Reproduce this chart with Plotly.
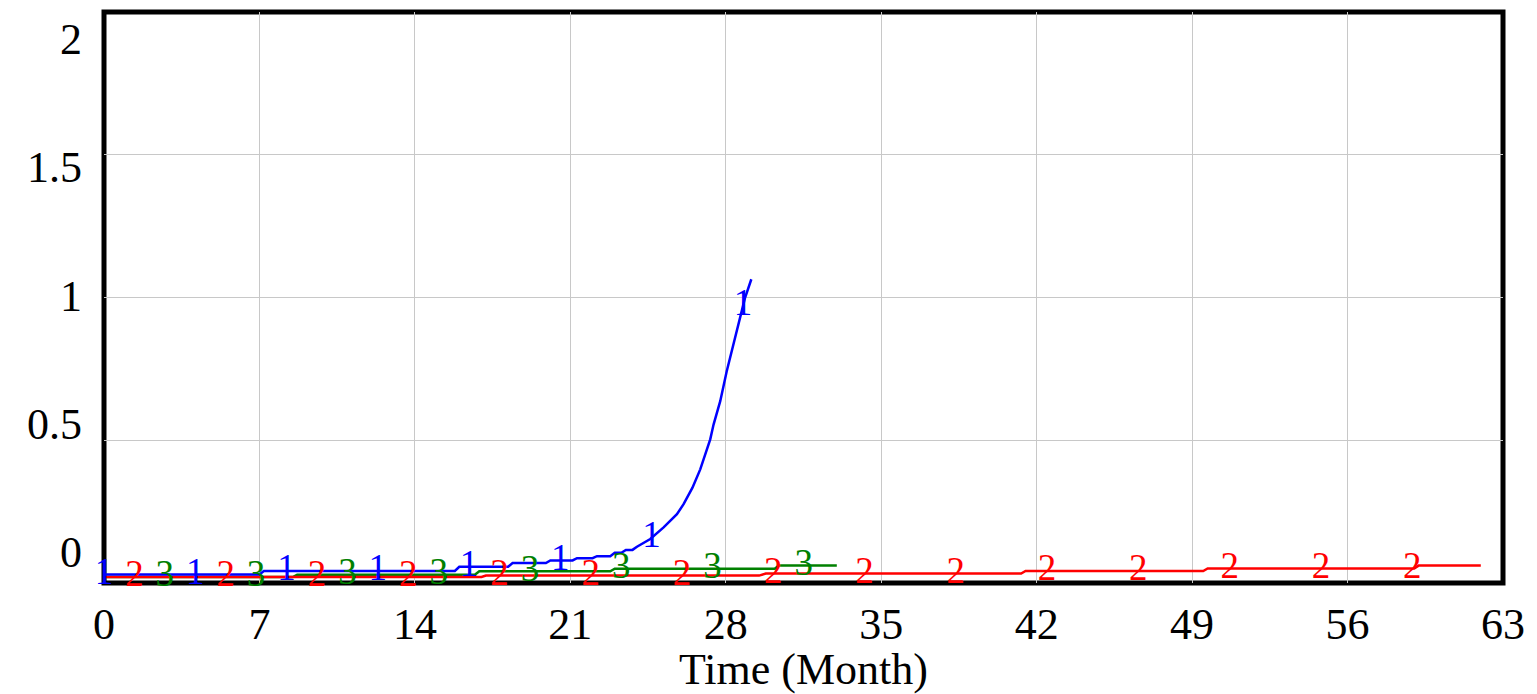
import numpy as np
import plotly.graph_objects as go

# ---- data ----
blue_t = [0, 7.0, 7.2, 15.8, 16.0, 18.2, 18.4, 19.9, 20.1, 21.1, 21.3, 22.0, 22.2,
          22.8, 23.0, 23.3, 23.5, 23.8, 24.0, 24.3, 24.6, 25.2, 25.8, 26.1, 26.5,
          26.85, 27.3, 27.45, 27.75, 28.04, 28.34, 28.63, 28.86, 29.15]
blue_v = [0.030, 0.030, 0.042, 0.042, 0.057, 0.057, 0.070, 0.070, 0.079, 0.079,
          0.087, 0.087, 0.094, 0.094, 0.106, 0.106, 0.116, 0.116, 0.127, 0.140,
          0.154, 0.195, 0.241, 0.276, 0.334, 0.398, 0.503, 0.555, 0.637, 0.741,
          0.834, 0.927, 0.997, 1.064]

red_t = [0, 17.0, 17.2, 29.5, 29.8, 41.3, 41.5, 49.5, 49.7, 59.0, 59.2, 62.0]
red_v = [0.021, 0.021, 0.026, 0.026, 0.033, 0.033, 0.042, 0.042, 0.051, 0.051,
         0.061, 0.061]

green_t = [0, 8.5, 8.7, 16.7, 16.9, 22.8, 23.0, 30.2, 30.4, 33.0]
green_v = [0.021, 0.021, 0.029, 0.029, 0.041, 0.041, 0.050, 0.050, 0.061, 0.061]

x_ticks = list(range(0, 64, 7))
y_tick_labels = ["0", "0.5", "1", "1.5", "2"]
x_title = "Time (Month)"

FONT = "Liberation Serif, Times New Roman, serif"
MARK_INTERVAL = 4.11

series = [
    ("3", green_t, green_v, "#008000", 2),
    ("2", red_t, red_v, "#FF0000", 1),
    ("1", blue_t, blue_v, "#0000FF", 0),
]

fig = go.Figure()
for name, t, v, color, k in series:
    fig.add_trace(go.Scatter(x=t, y=v, mode="lines", line=dict(color=color, width=2.5),
                             showlegend=False, hoverinfo="skip"))
for name, t, v, color, k in series:
    offset = k * MARK_INTERVAL / 3
    tm = np.arange(offset, t[-1] + 1e-9, MARK_INTERVAL)
    ym = np.interp(tm, t, v)
    fig.add_trace(go.Scatter(x=tm, y=ym, mode="text", text=[name] * len(tm),
                             textposition="middle center", cliponaxis=False,
                             textfont=dict(family=FONT, size=37, color=color),
                             showlegend=False, hoverinfo="skip"))

# y tick labels, Vensim style (evenly spread between bottom and top label slots)
W, H = 1537, 694
ml, mr, mt, mb = 104, 26, 12, 108
ph = H - mt - mb
label_py = np.linspace(555, 40, len(y_tick_labels))
annotations = []
for lab, py in zip(y_tick_labels, label_py):
    annotations.append(dict(text=lab, xref="paper", yref="paper", x=0, xshift=-20,
                            y=(H - mb - py) / ph, xanchor="right", yanchor="middle",
                            showarrow=False, font=dict(family=FONT, size=44, color="black")))

fig.update_layout(
    width=W, height=H,
    margin=dict(l=ml, r=mr, t=mt, b=mb, pad=0),
    paper_bgcolor="white", plot_bgcolor="white",
    font=dict(family=FONT, size=44, color="black"),
    xaxis=dict(range=[0, 63], tickvals=x_ticks, ticktext=[str(x) for x in x_ticks],
               showgrid=True, gridcolor="#c8c8c8", gridwidth=1, zeroline=False,
               showline=False, ticks="outside", ticklen=2, tickcolor="rgba(0,0,0,0)",
               tickfont=dict(family=FONT, size=44),
               title=dict(text=x_title, font=dict(family=FONT, size=44), standoff=2)),
    yaxis=dict(range=[0, 2], tickvals=[0, 0.5, 1, 1.5, 2], showticklabels=False,
               showgrid=True, gridcolor="#c8c8c8", gridwidth=1, zeroline=False,
               showline=False),
    annotations=annotations,
    shapes=[dict(type="rect", xref="paper", yref="paper", x0=0, x1=1, y0=0, y1=1,
                 line=dict(color="black", width=5), layer="between")],
)

fig.write_html("out.html")
